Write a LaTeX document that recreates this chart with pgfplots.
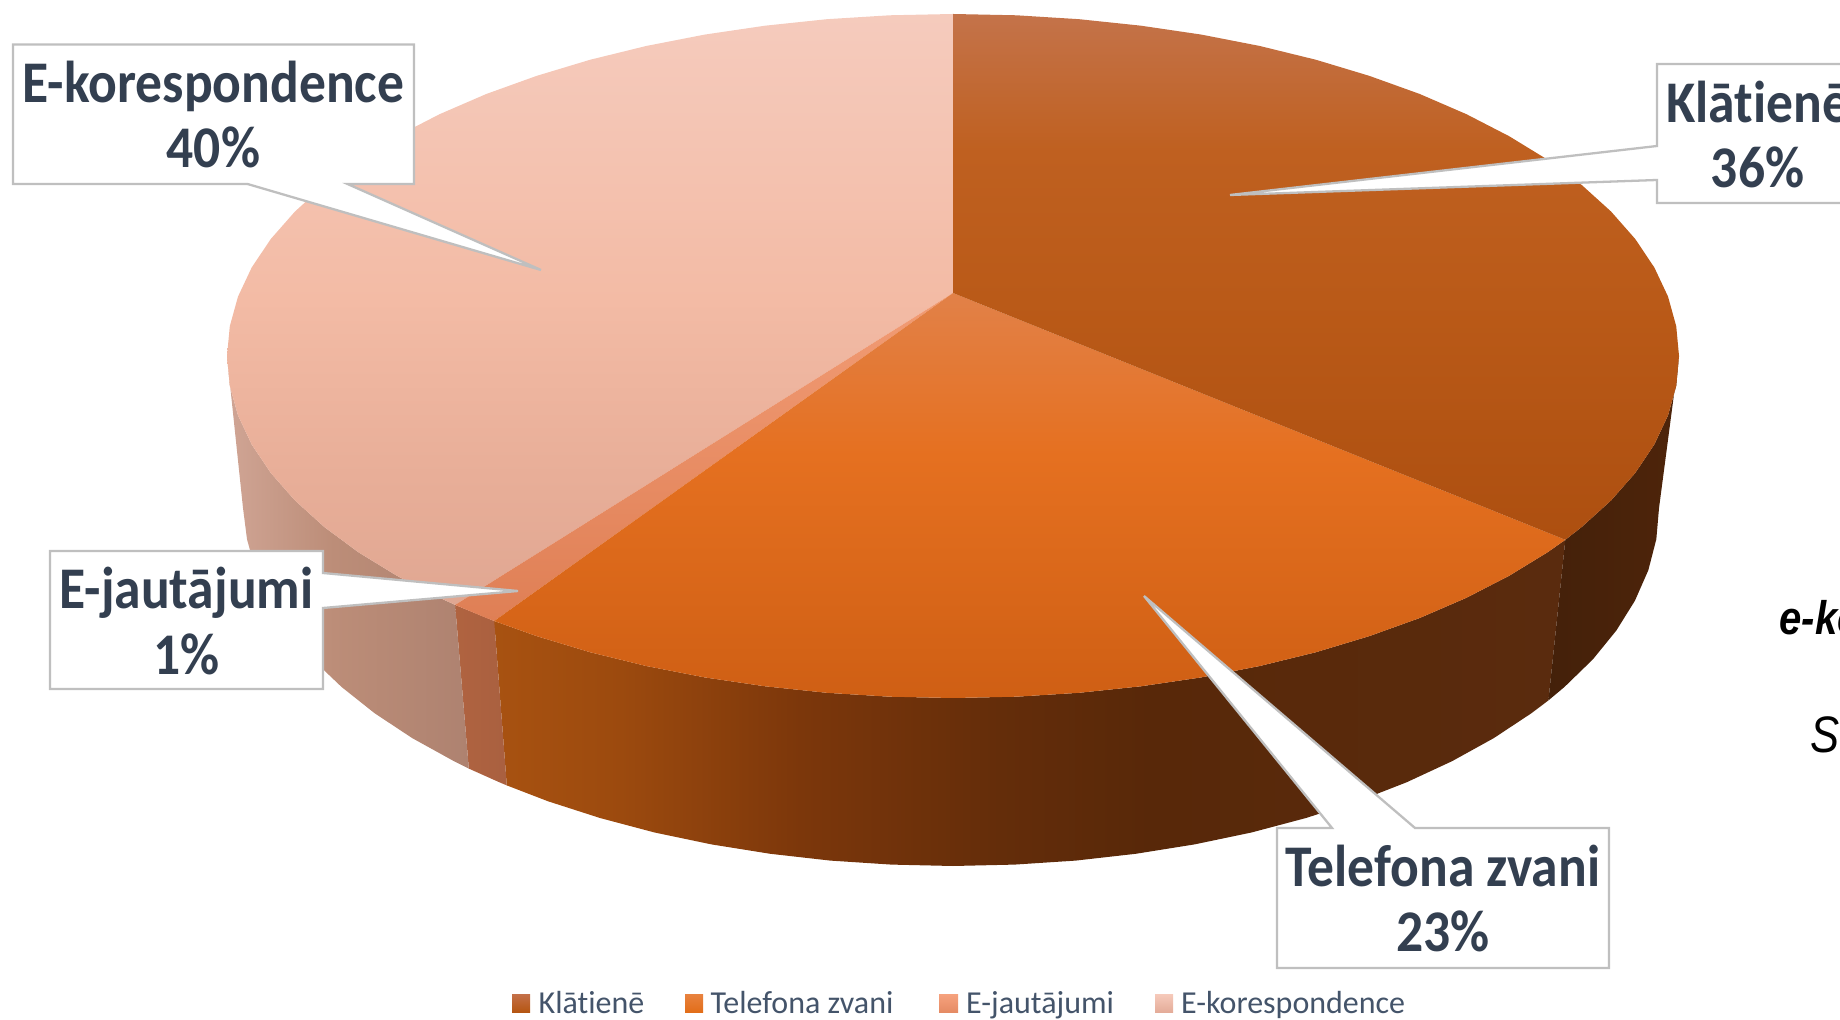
\documentclass[border=0pt]{standalone}
\usepackage{pgfplots}
\pgfplotsset{compat=1.18}
\usepackage{fontspec}
\setmainfont[Ligatures={TeX,NoCommon}]{Carlito}
\newfontfamily\arialf{Liberation Sans}
\definecolor{labeltxt}{HTML}{333F50}
\definecolor{legtxt}{HTML}{44546A}
\definecolor{callout}{HTML}{BFBFBF}
\tikzset{
  calloutbox/.style={draw=callout,line width=0.65pt,fill=white,line join=miter},
  lab/.style={anchor=base,text=labeltxt,font=\fontsize{16.8}{20}\selectfont\bfseries,inner sep=0pt,xscale=0.907},
  leg/.style={anchor=base west,text=legtxt,font=\fontsize{9.1}{11}\selectfont,inner sep=0pt},
}
% vertical shadings (0bp = bottom; the path box spans 25bp..75bp)
\definecolor{kA}{HTML}{C4734A}\definecolor{kB}{HTML}{BF6020}\definecolor{kC}{HTML}{BA5A18}\definecolor{kD}{HTML}{AD4F10}
\pgfdeclareverticalshading{topK}{100bp}{color(0bp)=(kD); color(25bp)=(kD); color(47.8bp)=(kC); color(62bp)=(kB); color(75bp)=(kA); color(100bp)=(kA)}
\definecolor{tA}{HTML}{E28148}\definecolor{tB}{HTML}{E57020}\definecolor{tC}{HTML}{CF5F14}
\pgfdeclareverticalshading{topT}{100bp}{color(0bp)=(tC); color(25bp)=(tC); color(55bp)=(tB); color(75bp)=(tA); color(100bp)=(tA)}
\definecolor{jA}{HTML}{F29C75}\definecolor{jB}{HTML}{DF7F55}
\pgfdeclareverticalshading{topJ}{100bp}{color(0bp)=(jB); color(25bp)=(jB); color(75bp)=(jA); color(100bp)=(jA)}
\definecolor{eA}{HTML}{F5CBBD}\definecolor{eB}{HTML}{F3BBA5}\definecolor{eC}{HTML}{E8AE98}\definecolor{eD}{HTML}{E0A792}
\pgfdeclareverticalshading{topE}{100bp}{color(0bp)=(eD); color(25bp)=(eD); color(36bp)=(eC); color(50.8bp)=(eB); color(75bp)=(eA); color(100bp)=(eA)}
% horizontal shadings for the walls
\definecolor{wt1}{HTML}{A85211}\definecolor{wt2}{HTML}{9C4A0E}\definecolor{wt3}{HTML}{7C370B}\definecolor{wt4}{HTML}{642D0A}\definecolor{wt5}{HTML}{582809}\definecolor{wt6}{HTML}{5A2B0E}
\pgfdeclarehorizontalshading{wallT}{100bp}{color(0bp)=(wt1); color(25bp)=(wt1); color(30.9bp)=(wt2); color(39.3bp)=(wt3); color(48.6bp)=(wt4); color(55.6bp)=(wt5); color(75bp)=(wt6); color(100bp)=(wt6)}
\definecolor{wk1}{HTML}{44210A}\definecolor{wk2}{HTML}{4E240A}
\pgfdeclarehorizontalshading{wallK}{100bp}{color(0bp)=(wk1); color(25bp)=(wk1); color(75bp)=(wk2); color(100bp)=(wk2)}
\definecolor{wj1}{HTML}{B06340}\definecolor{wj2}{HTML}{A96040}
\pgfdeclarehorizontalshading{wallJ}{100bp}{color(0bp)=(wj1); color(25bp)=(wj1); color(75bp)=(wj2); color(100bp)=(wj2)}
\definecolor{we1}{HTML}{D0A595}\definecolor{we2}{HTML}{BC8D78}\definecolor{we3}{HTML}{AE8270}
\pgfdeclarehorizontalshading{wallE}{100bp}{color(0bp)=(we1); color(25bp)=(we1); color(47bp)=(we2); color(75bp)=(we3); color(100bp)=(we3)}
% legend keys
\definecolor{l1a}{HTML}{C47049}\definecolor{l1b}{HTML}{B55510}
\definecolor{l2a}{HTML}{E8823F}\definecolor{l2b}{HTML}{E26D18}
\definecolor{l3a}{HTML}{F6A27E}\definecolor{l3b}{HTML}{E58A63}
\definecolor{l4a}{HTML}{F6CABB}\definecolor{l4b}{HTML}{E3AB98}
\begin{document}
\begin{tikzpicture}
\path[use as bounding box,clip] (0,0) rectangle (18.4cm,10.2cm);
\begin{axis}[
  at={(0,0)},anchor=south west,
  scale only axis,width=18.4cm,height=10.2cm,
  xmin=0,xmax=1840,ymin=0,ymax=1020,y dir=reverse,
  hide axis,clip=true,
]
% --- walls: share of 23 % (Telefona zvani)
\addplot[draw=none,shading=wallT] coordinates {
(1565.3,539.8)(1547.7,552.2)(1509.1,575.8)(1466.4,597.8)(1419.7,618)(1369.4,636.1)(1316,652.2)(1259.8,666)(1201.3,677.4)(1140.9,686.3)(1079.1,692.8)(1016.3,696.7)(953,698)(889.7,696.7)(826.9,692.8)(765.1,686.3)(704.7,677.4)(646.2,666)(590,652.2)(536.6,636.1)(494.2,621)
(506.8,785.4)(548.1,801.3)(600,818)(654.6,832.5)(711.5,844.4)(770.3,853.8)(830.4,860.6)(891.5,864.6)(953,866)(1014.5,864.6)(1075.6,860.6)(1135.7,853.8)(1194.5,844.4)(1251.4,832.5)(1306,818)(1357.9,801.3)(1406.8,782.2)(1452.2,761.1)(1493.8,738.1)(1531.3,713.3)(1548.4,700.4)
} --cycle;
% wall: Klatiene
\addplot[draw=none,shading=wallK] coordinates {
(1679,356)(1676.2,385.8)(1668,415.4)(1654.3,444.5)(1635.2,473)(1611,500.5)(1581.7,527)(1565.3,539.8)
(1548.4,700.4)(1564.4,687)(1592.9,659.3)(1616.4,630.4)(1634.9,600.7)(1648.3,570.2)(1656.3,539.2)(1659,508)
} --cycle;
% wall: E-jautajumi
\addplot[draw=none,shading=wallJ] coordinates {
(494.2,621)(455.1,604.9)(468.8,768.6)(499.2,782.2)(506.8,785.4)
} --cycle;
% wall: E-korespondence
\addplot[draw=none,shading=wallE] coordinates {
(455.1,604.9)(439.6,597.8)(396.9,575.8)(358.3,552.2)(324.3,527)(295,500.5)(270.8,473)(251.7,444.5)(238,415.4)(229.8,385.8)(227,356)
(243,508)(247,539.2)(255.5,570.2)(269.5,600.7)(288.5,630.4)(312.5,659.3)(341.6,687)(374.7,713.3)(412.2,738.1)(453.8,761.1)(468.8,768.6)
} --cycle;
% --- top faces
% E-korespondence 40 %
\addplot[draw=none,shading=topE] coordinates {
(953,293)(455.1,604.9)(439.6,597.8)(396.9,575.8)(358.3,552.2)(324.3,527)(295,500.5)(270.8,473)(251.7,444.5)(238,415.4)(229.8,385.8)(227,356)(229.8,326.2)(238,296.6)(251.7,267.5)(270.8,239)(295,211.5)(324.3,185)(358.3,159.8)(396.9,136.2)(439.6,114.2)(486.3,94)(536.6,75.9)(590,59.8)(646.2,46)(704.7,34.6)(765.1,25.7)(826.9,19.2)(889.7,15.3)(953,14)
} --cycle;
% E-jautajumi 1 %
\addplot[draw=none,shading=topJ] coordinates {
(953,293)(494.2,621)(486.3,618)(455.1,604.9)
} --cycle;
% Telefona zvani 23 %
\addplot[draw=none,shading=topT] coordinates {
(953,293)(1565.3,539.8)(1547.7,552.2)(1509.1,575.8)(1466.4,597.8)(1419.7,618)(1369.4,636.1)(1316,652.2)(1259.8,666)(1201.3,677.4)(1140.9,686.3)(1079.1,692.8)(1016.3,696.7)(953,698)(889.7,696.7)(826.9,692.8)(765.1,686.3)(704.7,677.4)(646.2,666)(590,652.2)(536.6,636.1)(494.2,621)
} --cycle;
% Klatiene 36 %
\addplot[draw=none,shading=topK] coordinates {
(953,293)(953,14)(1016.3,15.3)(1079.1,19.2)(1140.9,25.7)(1201.3,34.6)(1259.8,46)(1316,59.8)(1369.4,75.9)(1419.7,94)(1466.4,114.2)(1509.1,136.2)(1547.7,159.8)(1581.7,185)(1611,211.5)(1635.2,239)(1654.3,267.5)(1668,296.6)(1676.2,326.2)(1679,356)(1676.2,385.8)(1668,415.4)(1654.3,444.5)(1635.2,473)(1611,500.5)(1581.7,527)(1565.3,539.8)
} --cycle;
% --- callouts
\addplot[calloutbox] coordinates {(13,44.5)(414,44.5)(414,184)(347.5,184)(541,270)(247.5,184)(13,184)} --cycle;
\addplot[calloutbox] coordinates {(1657,64)(1900,64)(1900,203)(1657,203)(1657,180)(1230,195)(1657,146)} --cycle;
\addplot[calloutbox] coordinates {(1277,828)(1332,828)(1144,596)(1415,828)(1609,828)(1609,968)(1277,968)} --cycle;
\addplot[calloutbox] coordinates {(50,551)(323,551)(323,573)(518,591)(323,608)(323,689)(50,689)} --cycle;
\node[lab] at (axis cs:213.5,103) {E-korespondence};
\node[lab] at (axis cs:213.5,168) {40\%};
\node[lab] at (axis cs:1757.5,123) {Klātienē};
\node[lab] at (axis cs:1757.5,188) {36\%};
\node[lab] at (axis cs:1443,886) {Telefona zvani};
\node[lab] at (axis cs:1443,951) {23\%};
\node[lab] at (axis cs:186.5,609) {E-jautājumi};
\node[lab] at (axis cs:186.5,674) {1\%};
% --- legend
\addplot[draw=none,top color=l1a,bottom color=l1b] coordinates {(512,994)(530,994)(530,1012.5)(512,1012.5)} --cycle;
\addplot[draw=none,top color=l2a,bottom color=l2b] coordinates {(685,994)(703,994)(703,1012.5)(685,1012.5)} --cycle;
\addplot[draw=none,top color=l3a,bottom color=l3b] coordinates {(939,994)(958,994)(958,1012.5)(939,1012.5)} --cycle;
\addplot[draw=none,top color=l4a,bottom color=l4b] coordinates {(1155,994)(1173,994)(1173,1012.5)(1155,1012.5)} --cycle;
\node[leg] at (axis cs:538,1013.5) {Klātienē};
\node[leg] at (axis cs:710,1013.5) {Telefona zvani};
\node[leg] at (axis cs:965.5,1013.5) {E-jautājumi};
\node[leg] at (axis cs:1180.5,1013.5) {E-korespondence};
% --- text cut off at the right edge
\node[anchor=base west,inner sep=0pt,xscale=0.85] at (axis cs:1779,634) {\arialf\fontsize{13.4}{16}\selectfont\bfseries\itshape e-ko};
\node[anchor=base west,inner sep=0pt,xscale=0.85] at (axis cs:1810,752) {\arialf\fontsize{14.6}{18}\selectfont\itshape Sa};
\end{axis}
\end{tikzpicture}
\end{document}
